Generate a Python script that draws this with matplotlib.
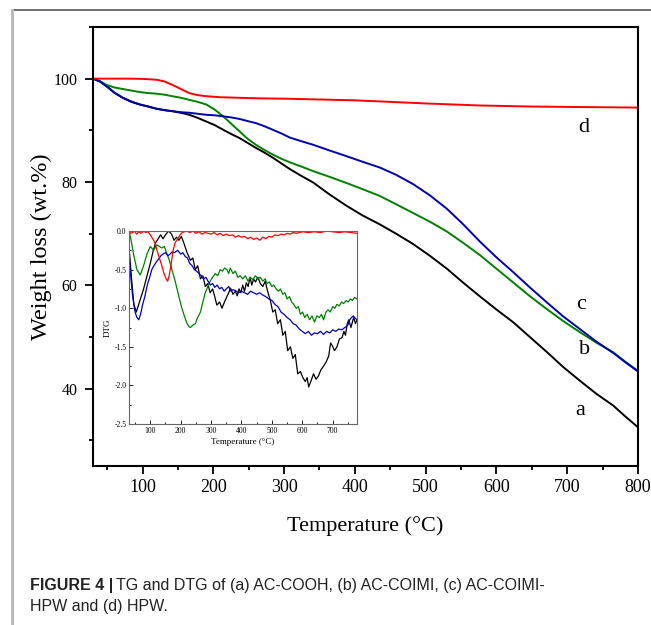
import matplotlib
matplotlib.use('Agg')
import matplotlib.pyplot as plt
from matplotlib.lines import Line2D
from matplotlib.ticker import MultipleLocator, FormatStrFormatter

# TG curves (temperature in °C, weight %)
t_a = [30, 40, 50, 60, 72, 84, 96, 108, 119, 131, 142, 154, 166, 178, 190, 202, 214, 225, 237, 248, 260, 272, 284, 296, 308, 324, 341, 364, 388, 411, 435, 458, 482, 506, 530, 553, 577, 600, 624, 647, 671, 694, 718, 741, 765, 782, 800]
w_a = [100, 99.5, 98.5, 97.3, 96.3, 95.5, 95.0, 94.6, 94.2, 93.9, 93.7, 93.4, 93.0, 92.4, 91.7, 91.0, 90.1, 89.3, 88.5, 87.6, 86.6, 85.7, 84.7, 83.6, 82.5, 81.2, 79.9, 77.6, 75.4, 73.5, 71.8, 70.0, 68.0, 65.7, 63.2, 60.5, 57.8, 55.3, 52.8, 50.0, 47.1, 44.2, 41.5, 39.0, 36.7, 34.6, 32.5]

t_b = [30, 40, 49, 60, 72, 84, 96, 108, 119, 131, 142, 154, 166, 178, 190, 202, 214, 225, 237, 248, 260, 272, 284, 296, 308, 324, 341, 364, 388, 411, 435, 458, 482, 506, 530, 553, 577, 600, 624, 647, 671, 694, 718, 741, 765, 782, 800]
w_b = [100, 99.5, 98.8, 98.3, 98.0, 97.7, 97.4, 97.2, 97.1, 96.9, 96.6, 96.3, 95.9, 95.5, 95.0, 94.0, 92.7, 91.3, 89.8, 88.4, 87.2, 86.2, 85.3, 84.5, 83.8, 83.0, 82.1, 81.0, 79.8, 78.6, 77.3, 75.7, 74.0, 72.3, 70.4, 68.2, 65.8, 63.2, 60.5, 57.9, 55.4, 53.1, 50.9, 48.9, 47.0, 45.2, 43.4]

t_c = [30, 40, 49, 60, 72, 84, 96, 108, 119, 131, 142, 154, 166, 178, 190, 202, 214, 225, 237, 248, 260, 272, 284, 296, 308, 324, 341, 364, 388, 411, 435, 458, 482, 506, 530, 553, 577, 600, 624, 647, 671, 694, 718, 741, 765, 782, 800]
w_c = [100, 99.4, 98.5, 97.3, 96.3, 95.6, 95.0, 94.6, 94.2, 93.9, 93.7, 93.5, 93.4, 93.2, 93.0, 92.9, 92.7, 92.5, 92.2, 91.8, 91.4, 90.8, 90.1, 89.4, 88.6, 87.9, 87.2, 86.1, 85.0, 83.9, 82.8, 81.4, 79.6, 77.4, 74.8, 71.8, 68.4, 65.4, 62.5, 59.6, 56.7, 54.0, 51.5, 49.1, 46.9, 45.1, 43.3]

t_d = [30, 80, 100, 119, 130, 142, 154, 166, 178, 190, 210, 260, 308, 400, 500, 577, 650, 720, 800]
w_d = [100, 100, 99.95, 99.8, 99.5, 98.8, 98.0, 97.2, 96.8, 96.6, 96.4, 96.2, 96.1, 95.8, 95.2, 94.8, 94.6, 94.5, 94.4]

# DTG curves (inset)
dt_a = [30, 38, 46, 54, 62, 70, 78, 88, 100, 110, 118, 126, 134, 142, 150, 160, 170, 178, 186, 194, 202, 210, 220, 232, 240, 248, 256, 265, 273, 281, 289, 297, 305, 312, 319, 328, 336, 344, 352, 358, 364, 372, 380, 386, 392, 398, 404, 410, 416, 422, 428, 434, 440, 446, 454, 462, 470, 478, 486, 495, 503, 511, 519, 528, 536, 544, 552, 561, 569, 577, 585, 594, 602, 610, 616, 621, 628, 637, 645, 653, 661, 670, 678, 687, 693, 698, 706, 714, 722, 731, 737, 742, 748, 753, 760, 769, 775, 780]
dg_a = [-0.2, -0.6, -0.95, -1.05, -0.95, -0.85, -0.75, -0.6, -0.42, -0.25, -0.15, -0.1, -0.05, -0.1, -0.05, 0.0, -0.04, -0.12, -0.08, -0.12, -0.07, -0.15, -0.27, -0.38, -0.35, -0.5, -0.45, -0.62, -0.58, -0.72, -0.68, -0.8, -0.75, -0.85, -0.96, -0.92, -1.0, -0.92, -0.85, -0.8, -0.74, -0.82, -0.78, -0.84, -0.75, -0.8, -0.7, -0.78, -0.67, -0.72, -0.6, -0.7, -0.62, -0.66, -0.6, -0.68, -0.72, -0.65, -0.78, -0.9, -1.05, -1.02, -1.2, -1.15, -1.35, -1.3, -1.55, -1.5, -1.65, -1.6, -1.85, -1.82, -1.9, -1.95, -1.9, -2.02, -1.95, -1.85, -1.92, -1.88, -1.8, -1.75, -1.7, -1.62, -1.45, -1.48, -1.55, -1.5, -1.4, -1.38, -1.3, -1.35, -1.2, -1.15, -1.25, -1.12, -1.2, -1.15]

dt_b = [30, 36, 45, 56, 67, 78, 89, 100, 111, 122, 130, 138, 146, 155, 163, 171, 180, 188, 196, 204, 212, 221, 228, 232, 240, 248, 256, 265, 273, 281, 289, 297, 305, 314, 322, 330, 338, 344, 352, 358, 363, 372, 380, 388, 396, 404, 413, 421, 429, 437, 446, 454, 462, 470, 478, 484, 492, 500, 506, 514, 522, 528, 536, 543, 550, 558, 565, 572, 580, 587, 594, 601, 608, 616, 624, 632, 640, 648, 656, 663, 670, 678, 685, 692, 700, 707, 714, 722, 729, 736, 744, 751, 758, 765, 772, 780]
dg_b = [0.0, -0.1, -0.3, -0.5, -0.57, -0.45, -0.3, -0.2, -0.25, -0.18, -0.2, -0.22, -0.2, -0.3, -0.38, -0.5, -0.62, -0.75, -0.88, -1.0, -1.1, -1.2, -1.24, -1.25, -1.22, -1.2, -1.12, -1.05, -0.92, -0.8, -0.72, -0.65, -0.6, -0.55, -0.58, -0.5, -0.52, -0.48, -0.5, -0.55, -0.48, -0.55, -0.52, -0.6, -0.58, -0.62, -0.58, -0.65, -0.6, -0.63, -0.58, -0.62, -0.6, -0.65, -0.62, -0.68, -0.66, -0.72, -0.7, -0.75, -0.78, -0.75, -0.82, -0.8, -0.88, -0.85, -0.92, -0.95, -1.0, -0.98, -1.08, -1.05, -1.12, -1.08, -1.15, -1.1, -1.18, -1.1, -1.12, -1.08, -1.15, -1.05, -1.02, -1.05, -0.98, -1.0, -0.95, -0.97, -0.92, -0.94, -0.9, -0.92, -0.88, -0.9, -0.86, -0.88]

dt_c = [30, 36, 42, 50, 56, 62, 68, 75, 82, 90, 98, 105, 112, 120, 128, 135, 142, 150, 158, 165, 172, 180, 190, 200, 207, 215, 222, 230, 238, 245, 252, 260, 268, 275, 283, 290, 298, 305, 312, 320, 328, 335, 343, 350, 358, 365, 372, 380, 390, 400, 410, 420, 430, 440, 450, 460, 470, 480, 490, 500, 510, 520, 530, 540, 550, 560, 570, 580, 590, 600, 610, 620, 630, 640, 650, 660, 670, 680, 690, 700, 710, 720, 730, 740, 750, 756, 762, 768, 774, 780]
dg_c = [-0.3, -0.6, -0.85, -1.05, -1.12, -1.15, -1.08, -0.95, -0.85, -0.7, -0.6, -0.5, -0.45, -0.4, -0.36, -0.32, -0.3, -0.28, -0.32, -0.3, -0.27, -0.28, -0.25, -0.3, -0.28, -0.33, -0.35, -0.42, -0.45, -0.5, -0.52, -0.55, -0.58, -0.62, -0.6, -0.65, -0.7, -0.68, -0.73, -0.7, -0.75, -0.73, -0.78, -0.75, -0.72, -0.78, -0.76, -0.77, -0.8, -0.78, -0.8, -0.82, -0.78, -0.8, -0.82, -0.8, -0.83, -0.85, -0.88, -0.9, -0.95, -0.98, -1.05, -1.08, -1.12, -1.15, -1.2, -1.22, -1.27, -1.3, -1.33, -1.3, -1.35, -1.32, -1.33, -1.3, -1.34, -1.3, -1.32, -1.28, -1.3, -1.27, -1.28, -1.25, -1.22, -1.15, -1.12, -1.1, -1.13, -1.15]

dt_d = [30, 36, 42, 48, 55, 62, 70, 78, 85, 92, 100, 108, 115, 122, 130, 138, 145, 152, 157, 162, 168, 175, 182, 190, 198, 205, 212, 220, 230, 240, 250, 260, 270, 280, 290, 300, 310, 320, 330, 340, 350, 360, 370, 380, 390, 400, 410, 420, 430, 440, 450, 460, 470, 480, 490, 500, 510, 520, 530, 540, 550, 560, 570, 580, 590, 600, 620, 640, 660, 680, 700, 720, 740, 760, 780]
dg_d = [0.0, -0.03, -0.02, 0.0, -0.04, -0.01, -0.03, 0.0, -0.02, -0.01, -0.05, -0.1, -0.15, -0.25, -0.35, -0.45, -0.55, -0.62, -0.65, -0.58, -0.45, -0.25, -0.15, -0.1, -0.05, -0.02, -0.01, 0.0, -0.02, 0.0, -0.03, -0.01, -0.04, -0.02, -0.03, -0.04, -0.02, -0.05, -0.03, -0.06, -0.04, -0.06, -0.05, -0.08, -0.06, -0.08, -0.07, -0.1, -0.08, -0.11, -0.09, -0.12, -0.08, -0.1, -0.07, -0.08, -0.05, -0.06, -0.04, -0.05, -0.03, -0.04, -0.02, -0.03, -0.02, -0.01, -0.02, -0.01, -0.02, 0.0, -0.01, -0.02, -0.01, -0.02, -0.03]

plt.rcParams['font.family'] = ['Liberation Serif', 'DejaVu Serif']

fig = plt.figure(figsize=(6.51, 6.25), dpi=100)

# card border
fig.add_artist(Line2D([12/651, 1], [1 - 10/625, 1 - 10/625], color='#555555', lw=1.2))
fig.add_artist(Line2D([12/651, 12/651], [0, 1 - 10/625], color='#bbbbbb', lw=2.2))

ax = fig.add_axes([93/651, 1 - 466/625, 545/651, 439/625])
ax.plot(t_a, w_a, color='black', lw=1.4)
ax.plot(t_b, w_b, color='#008000', lw=1.4)
ax.plot(t_c, w_c, color='#0000b0', lw=1.4)
ax.plot(t_d, w_d, color='#ff0000', lw=1.4)
ax.set_xlim(30, 800)
ax.set_ylim(25, 110)
ax.xaxis.set_major_locator(MultipleLocator(100))
ax.xaxis.set_minor_locator(MultipleLocator(50))
ax.yaxis.set_major_locator(MultipleLocator(20))
ax.yaxis.set_minor_locator(MultipleLocator(10))
ax.tick_params(which='major', direction='out', length=6, width=1.3)
ax.tick_params(which='minor', direction='out', length=3, width=1.3)
ax.tick_params(axis='x', labelsize=13)
ax.tick_params(axis='y', labelsize=11.5, pad=5)
for s in ax.spines.values():
    s.set_linewidth(1.5)
ax.set_xlabel('Temperature (°C)', fontsize=16, labelpad=14)
ax.set_ylabel('Weight loss (wt.%)', fontsize=17.5, labelpad=1)

for lab, x, y in [('d', 724, 90.5), ('c', 720, 56.3), ('b', 724, 47.6), ('a', 718, 35.7)]:
    ax.text(x, y, lab, fontsize=16, ha='center', va='center')

# DTG inset
ins = fig.add_axes([129/651, 1 - 424/625, 228/651, 193/625])
ins.plot(dt_a, dg_a, color='black', lw=0.9)
ins.plot(dt_b, dg_b, color='#008000', lw=0.9)
ins.plot(dt_c, dg_c, color='#0000c0', lw=0.9)
ins.plot(dt_d, dg_d, color='#ff0000', lw=0.9)
ins.set_xlim(30, 780)
ins.set_ylim(-2.5, 0)
ins.xaxis.set_major_locator(MultipleLocator(100))
ins.xaxis.set_minor_locator(MultipleLocator(50))
ins.yaxis.set_major_locator(MultipleLocator(0.5))
ins.yaxis.set_minor_locator(MultipleLocator(0.25))
ins.tick_params(which='major', direction='in', length=3, width=0.6, labelsize=5.5, pad=2)
ins.tick_params(which='minor', direction='in', length=1.5, width=0.6)
ins.yaxis.set_major_formatter(FormatStrFormatter('%.1f'))
for s in ins.spines.values():
    s.set_linewidth(0.8)
    s.set_color('#666666')
ins.set_xlabel('Temperature (°C)', fontsize=6.5, labelpad=2)
ins.set_ylabel('DTG', fontsize=6.5, labelpad=2)

# caption
cap_font = ['Liberation Sans Narrow', 'Liberation Sans', 'DejaVu Sans']
y1 = 1 - 590/625
t1 = fig.text(30/651, y1, 'FIGURE 4 |', fontsize=11.5, fontweight='bold', family=cap_font, color='#222222')
fig.canvas.draw()
bb = t1.get_window_extent()
fig.text(bb.x1 / fig.bbox.width + 0.004, y1, 'TG and DTG of (a) AC-COOH, (b) AC-COIMI, (c) AC-COIMI-',
         fontsize=11.5, family=cap_font, color='#222222')
fig.text(30/651, 1 - 611/625, 'HPW and (d) HPW.', fontsize=11.5, family=cap_font, color='#222222')

fig.savefig('out.png', dpi=100)
